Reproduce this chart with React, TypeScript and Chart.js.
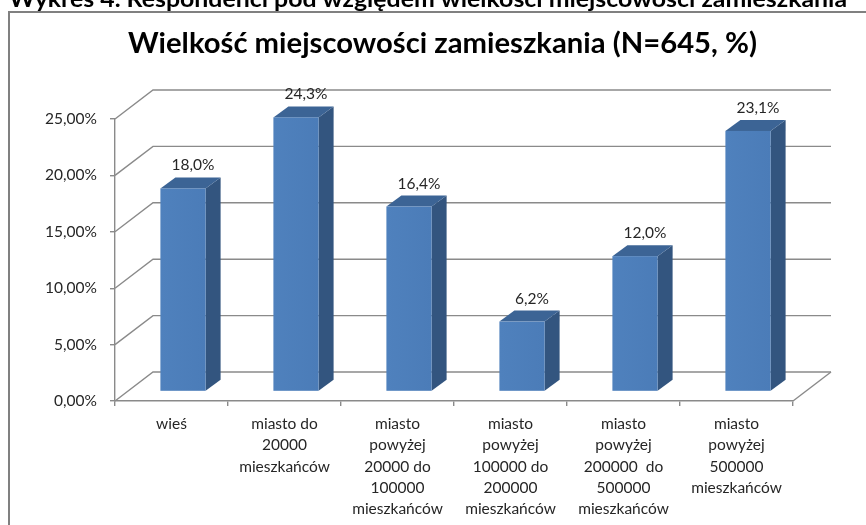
import React, { useEffect, useRef } from 'react';
import { Chart, registerables } from 'chart.js';

Chart.register(...registerables);

const heading = 'Wykres 4. Respondenci pod względem wielkości miejscowości zamieszkania';
const chartTitle = 'Wielkość miejscowości zamieszkania (N=645, %)';

const categories: string[][] = [
  ['wieś'],
  ['miasto do', '20000', 'mieszkańców'],
  ['miasto', 'powyżej', '20000 do', '100000', 'mieszkańców'],
  ['miasto', 'powyżej', '100000 do', '200000', 'mieszkańców'],
  ['miasto', 'powyżej', '200000  do', '500000', 'mieszkańców'],
  ['miasto', 'powyżej', '500000', 'mieszkańców'],
];

const values: number[] = [18.0, 24.3, 16.4, 6.2, 12.0, 23.1];

const yTicks: number[] = [0, 5, 10, 15, 20, 25];

const FONT = 'Lato';
const TEXT = '#262626';
const GRID = '#8a8a8a';

const fmtPct = (v: number, d: number) => v.toFixed(d).replace('.', ',') + '%';

// 3D geometry (pixels)
const BACK_DX = 38;
const BACK_DY = -29;
const BAR_DX = 11.5;
const BAR_DY = -9.5;
const SIDE_DX = 15;
const SIDE_DY = -11;

const framePlugin = {
  id: 'frame',
  beforeDraw(chart: any) {
    const ctx = chart.ctx as CanvasRenderingContext2D;
    ctx.save();
    ctx.fillStyle = '#ffffff';
    ctx.fillRect(0, 0, chart.width, chart.height);
    // outer box
    ctx.strokeStyle = '#808080';
    ctx.lineWidth = 2;
    ctx.beginPath();
    ctx.moveTo(9, chart.height + 10);
    ctx.lineTo(9, 12);
    ctx.lineTo(chart.width + 10, 12);
    ctx.stroke();

    // page heading (cut at top)
    ctx.fillStyle = '#000000';
    ctx.textBaseline = 'alphabetic';
    ctx.textAlign = 'left';
    ctx.font = `bold 22px ${FONT}`;
    let w = ctx.measureText(heading).width;
    ctx.save();
    ctx.translate(9, 7);
    ctx.scale(838 / w, 1);
    ctx.fillText(heading, 0, 0);
    ctx.restore();

    // chart title
    ctx.font = `bold 28px ${FONT}`;
    w = ctx.measureText(chartTitle).width;
    ctx.save();
    ctx.translate(128, 53);
    ctx.scale(629 / w, 1);
    ctx.fillText(chartTitle, 0, 0);
    ctx.restore();
    ctx.restore();
  },
};

const wallPlugin = {
  id: 'wall3d',
  beforeDatasetsDraw(chart: any) {
    const ctx = chart.ctx as CanvasRenderingContext2D;
    const y = chart.scales.y;
    const { left, right, bottom } = chart.chartArea;
    ctx.save();
    ctx.strokeStyle = GRID;
    ctx.lineWidth = 1.4;
    for (const v of yTicks) {
      const py = y.getPixelForValue(v);
      ctx.beginPath();
      ctx.moveTo(left, py);
      ctx.lineTo(left + BACK_DX, py + BACK_DY);
      ctx.lineTo(right + BACK_DX, py + BACK_DY);
      ctx.stroke();
    }
    ctx.beginPath();
    ctx.moveTo(right, bottom);
    ctx.lineTo(right + BACK_DX, bottom + BACK_DY);
    ctx.stroke();
    ctx.restore();
  },
  afterDatasetsDraw(chart: any) {
    const ctx = chart.ctx as CanvasRenderingContext2D;
    const meta = chart.getDatasetMeta(0);
    ctx.save();
    meta.data.forEach((el: any, i: number) => {
      const p = el.getProps(['x', 'y', 'base', 'width'], true);
      const w = p.width;
      const fx = p.x - w / 2 + BAR_DX;
      const ft = p.y + BAR_DY;
      const fb = p.base + BAR_DY;
      // side face
      ctx.fillStyle = '#33557f';
      ctx.beginPath();
      ctx.moveTo(fx + w, ft);
      ctx.lineTo(fx + w + SIDE_DX, ft + SIDE_DY);
      ctx.lineTo(fx + w + SIDE_DX, fb + SIDE_DY);
      ctx.lineTo(fx + w, fb);
      ctx.closePath();
      ctx.fill();
      // top face
      ctx.fillStyle = '#3c6495';
      ctx.beginPath();
      ctx.moveTo(fx, ft);
      ctx.lineTo(fx + SIDE_DX, ft + SIDE_DY);
      ctx.lineTo(fx + w + SIDE_DX, ft + SIDE_DY);
      ctx.lineTo(fx + w, ft);
      ctx.closePath();
      ctx.fill();
      // front face
      const g = ctx.createLinearGradient(fx, 0, fx + w, 0);
      g.addColorStop(0, '#4f81bd');
      g.addColorStop(1, '#4b7cb8');
      ctx.fillStyle = g;
      ctx.fillRect(fx, ft, w, fb - ft);
      // value label
      ctx.fillStyle = TEXT;
      ctx.font = `15.5px ${FONT}`;
      ctx.textAlign = 'center';
      ctx.textBaseline = 'middle';
      ctx.fillText(fmtPct(values[i], 1), fx + w / 2 + 10, ft - 23);
    });
    ctx.restore();
  },
};

export default function App() {
  const ref = useRef<HTMLCanvasElement | null>(null);
  useEffect(() => {
    if (!ref.current) return;
    const chart = new Chart(ref.current, {
      type: 'bar',
      data: {
        labels: categories,
        datasets: [
          {
            data: values,
            backgroundColor: 'rgba(0,0,0,0)',
            borderWidth: 0,
            barPercentage: 0.4,
            categoryPercentage: 1,
          },
        ],
      },
      options: {
        animation: false,
        responsive: false,
        devicePixelRatio: 1,
        events: [],
        layout: { padding: { left: 0, right: 73, top: 119, bottom: 0 } },
        plugins: {
          legend: { display: false },
          title: { display: false },
          tooltip: { enabled: false },
        },
        scales: {
          x: {
            grid: {
              display: true,
              drawOnChartArea: false,
              drawTicks: true,
              tickLength: 5,
              color: GRID,
              lineWidth: 1.4,
              offset: true,
            },
            border: { display: true, color: GRID, width: 1.4 },
            ticks: {
              color: TEXT,
              padding: 7.5,
              maxRotation: 0,
              minRotation: 0,
              autoSkip: false,
              font: { family: FONT, size: 15.5, lineHeight: 1.375 },
            },
            afterFit(scale: any) {
              scale.height = 124;
              scale.paddingLeft = 0;
              scale.paddingRight = 0;
            },
          },
          y: {
            min: 0,
            max: 25,
            grid: {
              display: true,
              drawOnChartArea: false,
              drawTicks: true,
              tickLength: 5,
              color: GRID,
              lineWidth: 1.4,
            },
            border: { display: true, color: GRID, width: 1.4 },
            ticks: {
              stepSize: 5,
              color: TEXT,
              padding: 13,
              font: { family: FONT, size: 15.5 },
              callback: (v: any) => fmtPct(Number(v), 2),
            },
            afterFit(scale: any) {
              scale.width = 115;
              scale.paddingTop = 0;
              scale.paddingBottom = 0;
            },
          },
        },
      },
      plugins: [framePlugin, wallPlugin],
    });
    return () => chart.destroy();
  }, []);

  return (
    <div style={{ position: 'fixed', left: 0, top: 0, width: 866, height: 525, background: '#fff' }}>
      <canvas ref={ref} width={866} height={525} style={{ width: 866, height: 525, display: 'block' }} />
    </div>
  );
}
